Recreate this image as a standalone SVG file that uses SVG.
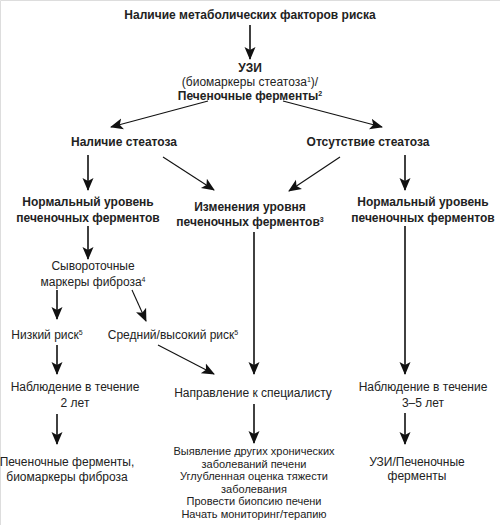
<svg xmlns="http://www.w3.org/2000/svg" width="500" height="525" viewBox="0 0 500 525">
<defs>
<marker id="ah" markerUnits="userSpaceOnUse" markerWidth="13" markerHeight="14" viewBox="0 0 13 14" refX="12" refY="7" orient="auto">
<path d="M0,1.5 L13,7 L0,12.5 L3,7 Z" fill="#111"/>
</marker>
</defs>
<style>
text{font-family:"Liberation Sans","DejaVu Sans",sans-serif;font-size:12px;fill:#222;text-anchor:middle}
.b{font-weight:bold}
.ln{stroke:#111;stroke-width:1.6;fill:none;marker-end:url(#ah)}
.dg{stroke:#111;stroke-width:1.1;fill:none;marker-end:url(#ah)}
.s{font-size:7px}
#n-actions text{font-size:11px}
</style>
<rect width="500" height="525" fill="#fff"/>
<path d="M0.5,525 V0.5 H500" stroke="#ddd" stroke-width="1" fill="none"/>
<g id="connectors">
<line class="ln" x1="250" y1="25" x2="250" y2="59"/>
<line class="dg" x1="208" y1="101" x2="111" y2="127"/>
<line class="dg" x1="283" y1="101" x2="382" y2="127"/>
<line class="ln" x1="88" y1="155" x2="88" y2="190"/>
<line class="dg" x1="163" y1="157" x2="214" y2="190"/>
<line class="dg" x1="340" y1="157" x2="289" y2="191"/>
<line class="ln" x1="405" y1="155" x2="405" y2="190"/>
<line class="ln" x1="88" y1="226" x2="88" y2="259"/>
<line class="ln" x1="57" y1="290" x2="57" y2="319"/>
<line class="dg" x1="132" y1="290" x2="146" y2="321"/>
<line class="ln" x1="57" y1="345" x2="57" y2="374"/>
<line class="dg" x1="158" y1="345" x2="214" y2="374"/>
<line class="ln" x1="254" y1="232" x2="254" y2="374"/>
<line class="ln" x1="405" y1="226" x2="405" y2="374"/>
<line class="ln" x1="57" y1="414" x2="57" y2="444"/>
<line class="ln" x1="254" y1="404" x2="254" y2="443"/>
<line class="ln" x1="405" y1="413" x2="405" y2="444"/>
</g>
<g id="n-metab"><text class="b" x="250" y="19">Наличие метаболических факторов риска</text></g>
<g id="n-uzi">
<text class="b" x="250" y="72">УЗИ</text>
<text x="250" y="86">(биомаркеры стеатоза<tspan class="s" dy="-4">1</tspan><tspan dy="4">)/</tspan></text>
<text class="b" x="250" y="100">Печеночные ферменты<tspan class="s" dy="-4">2</tspan></text>
</g>
<g id="n-steatosis"><text class="b" x="124" y="146">Наличие стеатоза</text></g>
<g id="n-nosteatosis"><text class="b" x="368" y="146">Отсутствие стеатоза</text></g>
<g id="n-normal-left">
<text class="b" x="88" y="206">Нормальный уровень</text>
<text class="b" x="88" y="222">печеночных ферментов</text>
</g>
<g id="n-changed">
<text class="b" x="250" y="211">Изменения уровня</text>
<text class="b" x="250" y="226">печеночных ферментов<tspan class="s" dy="-4">3</tspan></text>
</g>
<g id="n-normal-right">
<text class="b" x="423" y="206">Нормальный уровень</text>
<text class="b" x="423" y="222">печеночных ферментов</text>
</g>
<g id="n-serum">
<text x="93" y="270">Сывороточные</text>
<text x="93" y="286">маркеры фиброза<tspan class="s" dy="-4">4</tspan></text>
</g>
<g id="n-low"><text x="47" y="339">Низкий риск<tspan class="s" dy="-4">5</tspan></text></g>
<g id="n-mid"><text x="173" y="339">Средний/высокий риск<tspan class="s" dy="-4">5</tspan></text></g>
<g id="n-obs2">
<text x="75" y="391">Наблюдение в течение</text>
<text x="75" y="407">2 лет</text>
</g>
<g id="n-specialist"><text x="253" y="397">Направление к специалисту</text></g>
<g id="n-obs35">
<text x="423" y="391">Наблюдение в течение</text>
<text x="423" y="407">3–5 лет</text>
</g>
<g id="n-enz-fib">
<text x="67" y="466">Печеночные ферменты,</text>
<text x="67" y="481">биомаркеры фиброза</text>
</g>
<g id="n-actions">
<text x="254" y="455">Выявление других хронических</text>
<text x="254" y="467.6">заболеваний печени</text>
<text x="254" y="480.2">Углубленная оценка тяжести</text>
<text x="254" y="492.8">заболевания</text>
<text x="254" y="505.4">Провести биопсию печени</text>
<text x="254" y="518">Начать мониторинг/терапию</text>
</g>
<g id="n-uzi-enz">
<text x="417" y="466">УЗИ/Печеночные</text>
<text x="417" y="480">ферменты</text>
</g>
</svg>
